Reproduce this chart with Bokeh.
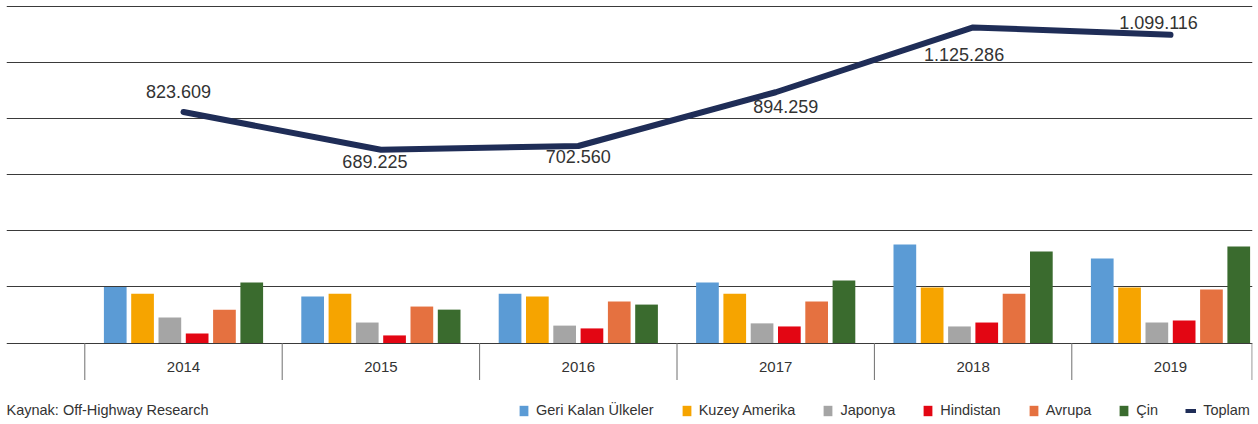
from bokeh.plotting import figure
from bokeh.models import (ColumnDataSource, Range1d, FixedTicker,
                          Legend, LegendItem, Label, Grid)
from bokeh.transform import dodge
from bokeh.core.properties import value
from bokeh.embed import file_html
from bokeh.resources import INLINE

# ---------------- data ----------------
years = ["2014", "2015", "2016", "2017", "2018", "2019"]
geri_kalan = [200000, 166000, 176000, 216000, 351000, 301000]
kuzey_amerika = [176000, 176000, 166000, 176000, 198000, 198000]
japonya = [91000, 73000, 62000, 70000, 59000, 73000]
hindistan = [34000, 27000, 52000, 59000, 73000, 80000]
avrupa = [119000, 130000, 148000, 148000, 176000, 191000]
cin = [216000, 119000, 137000, 223000, 326000, 344000]
toplam = [823609, 689225, 702560, 894259, 1125286, 1099116]

series_names = ["Geri Kalan Ülkeler", "Kuzey Amerika", "Japonya", "Hindistan", "Avrupa", "Çin"]
series_values = [geri_kalan, kuzey_amerika, japonya, hindistan, avrupa, cin]
line_name = "Toplam"
source_text = "Kaynak: Off-Highway Research"
y_max = 1200000
y_step = 200000

# ---------------- styles / layout ----------------
colors = ["#5B9BD5", "#F6A400", "#A5A5A5", "#E30613", "#E57140", "#3A6B2E"]
line_color = "#1F2D57"
text_color = "#333333"
font = "Liberation Sans"
label_dx = [-5, -6, 0, 10, -9, -12]      # px offsets of total labels
label_dy = [-21, 12, 11, 14, 27, -12]

W, H = 1256, 424
BORDER_LEFT, BORDER_RIGHT, BORDER_TOP = 6, 4, 5
FRAME_W = W - BORDER_LEFT - BORDER_RIGHT
TOP_GRID_PX = 6          # canvas y of the y_max gridline
BASE_PX = 342.5          # canvas y of the zero line
UNIT_PX = 197.4          # pixels per category
FIRST_CENTER_PX = 177.0  # first category centre, from frame left
SEP_PX = 37              # length of category separators below the base line
YEAR_LABEL_PX = 23.5     # year labels below the base line

k = (BASE_PX - TOP_GRID_PX) / y_max                    # px per unit
y_end = y_max + (TOP_GRID_PX - BORDER_TOP) / k
y_start = -(H - BASE_PX) / k

idx = list(range(len(years)))
x_start = -FIRST_CENTER_PX / UNIT_PX
x_end = (FRAME_W - FIRST_CENTER_PX) / UNIT_PX

data = dict(idx=idx, year=years, zero=[0] * len(years), toplam=toplam,
            toplam_label=[f"{v:,}".replace(",", ".") for v in toplam],
            dx=label_dx, dy=label_dy)
for name, vals in zip(series_names, series_values):
    data[name] = vals
src = ColumnDataSource(data)

p = figure(width=W, height=H, output_backend="svg", toolbar_location=None,
           x_range=Range1d(x_start, x_end), y_range=Range1d(y_start, y_end),
           x_axis_location=None, y_axis_location=None,
           min_border_left=BORDER_LEFT, min_border_right=BORDER_RIGHT,
           min_border_top=BORDER_TOP, min_border_bottom=0)
p.outline_line_color = None
p.background_fill_color = "white"
p.border_fill_color = "white"
p.grid.visible = False

grid = Grid(dimension=1, ticker=FixedTicker(ticks=list(range(0, y_max + 1, y_step))),
            grid_line_color="#3a3a3a", grid_line_width=1)
p.add_layout(grid)

# category separators and year labels
sep_x = [i - 0.5 for i in idx] + [x_end - 0.002]
p.segment(x0=sep_x, y0=[0] * len(sep_x), x1=sep_x, y1=[-SEP_PX / k] * len(sep_x),
          line_color="#6e6e6e", line_width=1)
p.text(x="idx", y="zero", text="year", source=src, y_offset=YEAR_LABEL_PX,
       text_align="center", text_baseline="middle", text_font=value(font),
       text_font_size="15px", text_color=text_color)

# bars
n = len(series_names)
pitch = 0.1383
bar_w = 0.115
bar_renderers = []
for j, (name, col) in enumerate(zip(series_names, colors)):
    off = (j - (n - 1) / 2) * pitch
    bar_renderers.append(p.vbar(x=dodge("idx", off), top=name, width=bar_w, source=src,
                                fill_color=col, line_color=None))

# total line
p.line(x="idx", y="toplam", source=src, line_color=line_color, line_width=6,
       line_cap="round", line_join="round")
legend_line = p.line(x="idx", y="toplam", source=src, line_color=line_color,
                     line_width=4, visible=False)

p.text(x="idx", y="toplam", text="toplam_label", source=src,
       x_offset="dx", y_offset="dy", text_align="center", text_baseline="middle",
       text_font=value(font), text_font_size="18px", text_color=text_color)

# legend + source
items = [LegendItem(label=nm, renderers=[r]) for nm, r in zip(series_names, bar_renderers)]
items.append(LegendItem(label=line_name, renderers=[legend_line]))
legend = Legend(items=items, orientation="horizontal", location=(512, 6),
                padding=0, margin=0, spacing=27, glyph_width=11, glyph_height=13,
                label_standoff=7, label_height=13, label_text_font=font,
                label_text_font_size="14.5px", label_text_color=text_color,
                border_line_color=None, background_fill_alpha=0)
p.add_layout(legend)

p.add_layout(Label(x=0, y=15, x_units="screen", y_units="screen", text=source_text,
                   text_font=font, text_font_size="14.5px", text_color=text_color,
                   text_baseline="middle", text_align="left"))

open("out.html", "w").write(file_html(p, INLINE))
